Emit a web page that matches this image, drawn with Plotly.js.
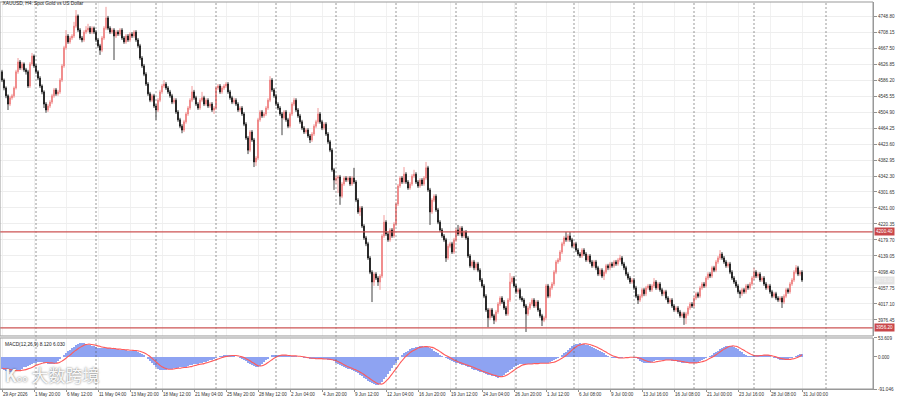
<!DOCTYPE html>
<html>
<head>
<meta charset="utf-8">
<script src="https://cdn.plot.ly/plotly-3.0.1.min.js"></script>
<style>html,body{margin:0;padding:0;background:#fff}#chart{width:900px;height:400px}</style>
</head>
<body>
<div id="chart"></div>
<script>
const chartTitle = "XAUUSD, H4: Spot Gold vs US Dollar";
const macdTitle = "MACD(12,26,9) 8.120 6.030";

const open = [
4607,4586,4566,4546,4525,4541,4546,4566,4607,4632,
4617,4627,4612,4607,4571,4627,4647,4622,4607,4591,
4571,4556,4525,4510,4520,4530,4546,4561,4551,4556,
4586,4622,4668,4698,4683,4693,4698,4723,4749,4713,
4693,4688,4708,4713,4718,4708,4718,4708,4688,4673,
4662,4693,4718,4744,4718,4708,4713,4698,4708,4703,
4713,4693,4683,4698,4688,4703,4698,4708,4688,4673,
4642,4622,4601,4576,4551,4535,4546,4520,4510,4535,
4556,4571,4576,4566,4556,4546,4530,4535,4505,4485,
4469,4459,4480,4500,4515,4535,4556,4541,4525,4515,
4535,4541,4525,4535,4520,4525,4510,4515,4566,4571,
4556,4566,4571,4576,4556,4541,4530,4535,4525,4510,
4515,4500,4474,4439,4408,4454,4434,4378,4388,4485,
4505,4495,4500,4515,4535,4586,4561,4546,4525,4515,
4500,4490,4505,4485,4469,4500,4525,4535,4510,4495,
4480,4464,4454,4459,4444,4434,4449,4469,4480,4500,
4480,4464,4474,4449,4429,4408,4358,4332,4337,4340,
4291,4322,4337,4332,4337,4322,4337,4327,4281,4251,
4261,4215,4185,4170,4134,4098,4073,4093,4083,4073,
4088,4190,4225,4195,4180,4205,4190,4220,4271,4317,
4337,4327,4347,4327,4312,4322,4342,4347,4327,4317,
4332,4322,4337,4363,4307,4251,4281,4291,4256,4225,
4205,4190,4180,4134,4164,4170,4149,4180,4205,4195,
4210,4190,4200,4185,4139,4114,4124,4109,4119,4103,
4078,4063,4037,4002,3982,4002,3987,3976,3997,4017,
4032,4022,4007,3992,4027,4073,4083,4063,4048,4053,
4032,4027,4012,3992,4007,4017,4027,4012,4022,4002,
3987,3976,3982,4063,4037,4058,4068,4098,4124,4129,
4149,4170,4185,4180,4190,4180,4164,4170,4154,4144,
4139,4154,4144,4129,4139,4124,4114,4124,4109,4093,
4103,4088,4098,4114,4109,4119,4114,4124,4119,4129,
4134,4119,4109,4093,4083,4073,4078,4058,4037,4027,
4037,4053,4043,4058,4063,4053,4063,4073,4058,4068,
4053,4043,4048,4032,4022,4027,4012,4002,4007,3997,
3987,3992,3982,3992,4007,4017,4012,4032,4043,4037,
4058,4068,4063,4083,4093,4088,4109,4103,4124,4134,
4144,4134,4124,4114,4119,4098,4083,4073,4063,4048,
4043,4053,4048,4063,4058,4068,4083,4098,4088,4093,
4078,4083,4068,4058,4063,4048,4037,4043,4032,4027,
4032,4022,4037,4053,4048,4068,4078,4098,4109,4093,
4098];

const close = [
4586,4566,4546,4525,4541,4546,4566,4607,4632,4617,
4627,4612,4607,4571,4627,4647,4622,4607,4591,4571,
4556,4525,4510,4520,4530,4546,4561,4551,4556,4586,
4622,4668,4698,4683,4693,4698,4723,4749,4713,4693,
4688,4708,4713,4718,4708,4718,4708,4688,4673,4662,
4693,4718,4744,4718,4708,4713,4698,4708,4703,4713,
4693,4683,4698,4688,4703,4698,4708,4688,4673,4642,
4622,4601,4576,4551,4535,4546,4520,4510,4535,4556,
4571,4576,4566,4556,4546,4530,4535,4505,4485,4469,
4459,4480,4500,4515,4535,4556,4541,4525,4515,4535,
4541,4525,4535,4520,4525,4510,4515,4566,4571,4556,
4566,4571,4576,4556,4541,4530,4535,4525,4510,4515,
4500,4474,4439,4408,4454,4434,4378,4388,4485,4505,
4495,4500,4515,4535,4586,4561,4546,4525,4515,4500,
4490,4505,4485,4469,4500,4525,4535,4510,4495,4480,
4464,4454,4459,4444,4434,4449,4469,4480,4500,4480,
4464,4474,4449,4429,4408,4358,4332,4337,4340,4291,
4322,4337,4332,4337,4322,4337,4327,4281,4251,4261,
4215,4185,4170,4134,4098,4073,4093,4083,4073,4088,
4190,4225,4195,4180,4205,4190,4220,4271,4317,4337,
4327,4347,4327,4312,4322,4342,4347,4327,4317,4332,
4322,4337,4363,4307,4251,4281,4291,4256,4225,4205,
4190,4180,4134,4164,4170,4149,4180,4205,4195,4210,
4190,4200,4185,4139,4114,4124,4109,4119,4103,4078,
4063,4037,4002,3982,4002,3987,3976,3997,4017,4032,
4022,4007,3992,4027,4073,4083,4063,4048,4053,4032,
4027,4012,3992,4007,4017,4027,4012,4022,4002,3987,
3976,3982,4063,4037,4058,4068,4098,4124,4129,4149,
4170,4185,4180,4190,4180,4164,4170,4154,4144,4139,
4154,4144,4129,4139,4124,4114,4124,4109,4093,4103,
4088,4098,4114,4109,4119,4114,4124,4119,4129,4134,
4119,4109,4093,4083,4073,4078,4058,4037,4027,4037,
4053,4043,4058,4063,4053,4063,4073,4058,4068,4053,
4043,4048,4032,4022,4027,4012,4002,4007,3997,3987,
3992,3982,3992,4007,4017,4012,4032,4043,4037,4058,
4068,4063,4083,4093,4088,4109,4103,4124,4134,4144,
4134,4124,4114,4119,4098,4083,4073,4063,4048,4043,
4053,4048,4063,4058,4068,4083,4098,4088,4093,4078,
4083,4068,4058,4063,4048,4037,4043,4032,4027,4032,
4022,4037,4053,4048,4068,4078,4098,4109,4093,4098,
4078];

const high = [
4612,4590,4570,4550,4546,4551,4570,4612,4642,4637,
4632,4631,4617,4612,4632,4655,4651,4627,4611,4596,
4575,4560,4530,4525,4535,4551,4566,4566,4561,4591,
4627,4673,4713,4703,4698,4703,4734,4764,4753,4718,
4698,4713,4723,4729,4723,4723,4722,4713,4693,4678,
4698,4723,4772,4749,4723,4718,4718,4713,4713,4718,
4718,4698,4703,4703,4708,4708,4713,4713,4693,4678,
4647,4627,4606,4581,4556,4551,4551,4525,4540,4561,
4576,4586,4581,4571,4561,4551,4541,4540,4510,4490,
4474,4485,4505,4520,4540,4571,4561,4546,4530,4540,
4556,4546,4540,4540,4530,4530,4520,4571,4576,4576,
4571,4576,4581,4581,4561,4546,4541,4540,4530,4520,
4520,4505,4479,4444,4459,4459,4439,4393,4490,4510,
4510,4505,4520,4540,4596,4591,4566,4551,4530,4520,
4505,4510,4510,4490,4505,4530,4541,4540,4515,4500,
4485,4469,4464,4464,4449,4454,4474,4485,4515,4505,
4485,4479,4479,4454,4434,4413,4363,4342,4345,4345,
4327,4342,4342,4342,4342,4342,4363,4332,4286,4266,
4266,4220,4190,4175,4139,4103,4098,4098,4088,4093,
4195,4243,4230,4200,4210,4210,4225,4276,4322,4342,
4342,4365,4352,4332,4327,4347,4358,4352,4332,4337,
4337,4342,4378,4368,4312,4286,4296,4296,4261,4230,
4210,4195,4185,4170,4175,4175,4185,4210,4218,4215,
4215,4205,4205,4190,4144,4129,4129,4124,4124,4108,
4083,4068,4042,4007,4007,4007,3992,4002,4022,4037,
4037,4027,4012,4032,4096,4088,4088,4068,4058,4058,
4037,4032,4017,4012,4022,4032,4032,4027,4027,4007,
3992,3987,4068,4068,4063,4073,4103,4129,4134,4154,
4175,4190,4200,4195,4200,4185,4175,4175,4159,4149,
4159,4159,4149,4144,4144,4129,4129,4129,4114,4108,
4108,4103,4119,4119,4124,4124,4129,4129,4134,4142,
4139,4124,4114,4098,4088,4083,4083,4063,4042,4042,
4058,4058,4063,4068,4068,4068,4083,4078,4073,4073,
4058,4053,4053,4037,4032,4032,4017,4012,4012,4002,
3997,3997,3997,4012,4022,4022,4037,4048,4048,4063,
4073,4073,4088,4098,4098,4114,4114,4129,4139,4154,
4149,4139,4129,4124,4124,4103,4088,4078,4068,4053,
4058,4058,4068,4068,4073,4088,4109,4103,4098,4098,
4088,4088,4073,4068,4068,4053,4048,4048,4037,4037,
4037,4042,4058,4058,4073,4083,4103,4116,4114,4103,
4103];

const low = [
4581,4560,4540,4510,4520,4536,4541,4562,4602,4612,
4611,4607,4600,4566,4566,4622,4617,4602,4586,4566,
4550,4515,4503,4505,4515,4525,4541,4546,4546,4551,
4581,4617,4663,4678,4678,4688,4693,4718,4708,4688,
4682,4683,4703,4708,4703,4703,4703,4683,4668,4650,
4657,4688,4713,4713,4703,4703,4637,4693,4698,4698,
4688,4678,4678,4683,4683,4693,4693,4683,4668,4637,
4617,4596,4571,4546,4530,4530,4515,4485,4505,4530,
4551,4566,4561,4551,4541,4525,4525,4500,4480,4464,
4451,4454,4475,4495,4510,4530,4536,4520,4510,4510,
4530,4520,4520,4515,4515,4505,4500,4510,4561,4551,
4551,4561,4566,4551,4536,4525,4525,4520,4505,4505,
4495,4469,4434,4398,4403,4429,4365,4368,4383,4480,
4490,4490,4495,4510,4530,4556,4541,4520,4510,4495,
4446,4485,4480,4464,4464,4495,4520,4505,4490,4475,
4459,4449,4449,4439,4426,4429,4444,4464,4475,4475,
4459,4459,4444,4424,4403,4353,4307,4322,4299,4269,
4286,4317,4327,4327,4317,4317,4322,4276,4246,4241,
4210,4180,4164,4129,4093,4022,4063,4078,4063,4053,
4083,4185,4190,4175,4175,4185,4185,4215,4266,4312,
4322,4322,4322,4307,4307,4317,4337,4322,4312,4312,
4317,4317,4332,4302,4218,4246,4276,4251,4220,4200,
4185,4175,4124,4129,4159,4144,4144,4175,4190,4190,
4185,4185,4180,4134,4109,4109,4103,4103,4098,4073,
4058,4032,3997,3958,3976,3982,3966,3971,3992,4012,
4017,4002,3987,3987,4022,4068,4058,4043,4043,4027,
4022,4007,3946,3987,4002,4012,4007,4007,3997,3982,
3961,3971,3976,4032,4032,4053,4063,4093,4119,4124,
4144,4164,4175,4175,4175,4159,4159,4149,4139,4134,
4134,4139,4124,4124,4119,4109,4109,4103,4088,4088,
4083,4078,4093,4103,4103,4109,4109,4114,4114,4124,
4114,4103,4088,4078,4068,4068,4053,4032,4017,4022,
4032,4037,4037,4053,4048,4048,4058,4053,4053,4048,
4037,4037,4027,4017,4017,4007,3997,3997,3992,3982,
3982,3964,3966,3987,4002,4007,4007,4027,4032,4032,
4053,4058,4058,4078,4083,4083,4098,4098,4119,4129,
4129,4119,4109,4109,4093,4078,4068,4058,4043,4032,
4037,4043,4043,4053,4053,4063,4078,4083,4083,4073,
4073,4063,4053,4053,4043,4032,4032,4027,4022,4022,
4007,4017,4032,4043,4043,4063,4073,4093,4088,4088,
4073];

const macd = [
-35,-37,-39,-41,-42,-42,-41,-40,-38,-36,
-33,-30,-28,-25,-22,-19,-17,-16,-15,-15,
-15,-16,-18,-19,-20,-20,-19,-17,-12,-6,
0,5,11,16,20,25,29,33,36,39,
39,38,37,35,33,31,30,28,26,25,
24,24,25,25,24,23,22,21,21,20,
20,19,19,18,18,17,17,16,14,12,
8,4,0,-5,-11,-17,-23,-29,-34,-38,
-38,-37,-36,-35,-34,-33,-32,-31,-31,-30,
-30,-29,-28,-26,-24,-22,-21,-20,-19,-18,
-17,-15,-14,-12,-10,-8,-6,-3,0,2,
3,4,5,5,5,4,3,1,-1,-3,
-6,-9,-13,-17,-20,-23,-27,-30,-29,-25,
-20,-15,-10,-5,0,4,6,6,6,5,
5,4,4,3,3,3,2,2,1,0,
-1,-2,-3,-4,-5,-6,-6,-6,-5,-5,
-6,-6,-7,-8,-9,-10,-13,-16,-19,-23,
-26,-29,-31,-33,-35,-38,-40,-43,-47,-51,
-55,-60,-64,-68,-72,-75,-78,-80,-80,-78,
-72,-64,-56,-48,-40,-32,-24,-16,-8,0,
5,10,14,18,21,24,26,28,29,30,
30,29,28,27,25,22,18,14,10,6,
3,0,-3,-6,-10,-13,-15,-17,-18,-20,
-22,-24,-26,-28,-30,-33,-36,-38,-40,-42,
-44,-46,-48,-50,-52,-54,-55,-57,-59,-58,
-55,-50,-46,-42,-38,-33,-29,-25,-22,-20,
-20,-20,-20,-19,-19,-19,-18,-18,-18,-18,
-18,-18,-18,-16,-14,-12,-9,-6,-3,0,
5,10,15,20,25,30,34,36,37,38,
37,36,35,33,31,29,26,23,20,17,
14,10,6,3,0,-2,-3,-4,-4,-3,
-2,-1,0,0,0,-1,-2,-4,-7,-11,
-14,-16,-17,-17,-16,-14,-12,-10,-9,-8,
-8,-9,-9,-10,-10,-11,-12,-13,-14,-15,
-16,-17,-18,-18,-18,-18,-17,-16,-14,-12,
-10,-7,-4,-1,2,6,10,14,18,22,
26,29,31,32,32,30,28,25,21,17,
13,9,6,3,2,2,3,4,5,6,
6,6,5,4,2,0,-2,-4,-6,-8,
-8,-8,-7,-6,-4,-2,0,2,5,7,
8.12];

const signal = [
-32,-33,-34,-35,-36,-37,-38,-39,-39,-39,
-38,-37,-36,-34,-32,-30,-27,-24,-22,-20,
-18,-17,-16,-16,-17,-17,-18,-18,-17,-15,
-12,-8,-4,1,5,10,15,19,23,27,
30,33,35,36,36,35,34,33,31,30,
28,27,26,25,25,24,24,23,22,22,
21,21,20,20,19,19,18,18,17,16,
14,12,9,5,1,-4,-9,-14,-19,-24,
-28,-31,-33,-35,-35,-35,-34,-33,-32,-32,
-31,-30,-30,-29,-28,-27,-25,-24,-22,-21,
-20,-19,-17,-16,-14,-12,-10,-8,-6,-4,
-2,0,1,2,3,4,4,4,3,2,
0,-2,-5,-8,-11,-15,-18,-22,-25,-26,
-25,-23,-20,-16,-12,-8,-4,-1,2,4,
5,5,5,4,4,3,3,3,2,2,
1,0,-1,-2,-3,-4,-4,-5,-5,-5,
-5,-6,-6,-6,-7,-8,-9,-11,-13,-16,
-19,-22,-25,-28,-30,-32,-35,-37,-40,-43,
-46,-50,-54,-58,-62,-66,-70,-73,-76,-77,
-77,-74,-69,-63,-56,-49,-41,-34,-26,-18,
-11,-4,2,7,12,16,19,22,25,27,
28,29,29,29,28,27,25,22,19,15,
11,7,4,1,-2,-5,-9,-11,-14,-16,
-18,-20,-22,-24,-26,-28,-30,-33,-35,-37,
-40,-42,-44,-46,-48,-50,-52,-53,-55,-56,
-56,-55,-53,-50,-46,-42,-38,-34,-30,-27,
-24,-22,-21,-20,-20,-20,-19,-19,-19,-18,
-18,-18,-18,-18,-17,-16,-15,-13,-10,-7,
-4,0,4,9,14,19,24,28,32,34,
36,37,37,36,35,33,31,29,26,23,
20,17,14,10,7,4,2,0,-2,-3,
-3,-3,-2,-2,-1,-1,-1,-1,-2,-4,
-6,-9,-11,-13,-14,-15,-15,-14,-13,-12,
-11,-10,-9,-9,-9,-9,-10,-10,-11,-12,
-13,-14,-15,-16,-17,-17,-17,-17,-16,-15,
-14,-12,-10,-7,-4,-1,2,6,10,14,
18,22,25,28,30,31,31,30,28,25,
22,19,15,12,9,6,4,3,3,4,
4,5,5,5,4,3,2,0,-2,-4,
-5,-6,-7,-7,-7,-6,-5,-3,-1,2,
6.03];

// x-axis label bars (every 16 H4 bars) and their texts
const labelBars = [0,16,32,48,64,80,96,112,128,144,160,176,192,208,224,240,256,272,288,304,320,336,352,368,384,400];
const labelTexts = ["29 Apr 2026","1 May 20:00","6 May 12:00","11 May 04:00","13 May 20:00","18 May 12:00","21 May 04:00","25 May 20:00","28 May 12:00","2 Jun 04:00","4 Jun 20:00","9 Jun 12:00","12 Jun 04:00","16 Jun 20:00","19 Jun 12:00","24 Jun 04:00","26 Jun 20:00","1 Jul 12:00","6 Jul 08:00","9 Jul 00:00","13 Jul 16:00","16 Jul 08:00","21 Jul 00:00","23 Jul 16:00","28 Jul 08:00","31 Jul 00:00"];
// week separators (bar index of Monday 00:00)
const weekStarts = [17,47,77,107,137,167,197,227,257,286,316,346,376,412];
// price axis ticks
const priceTicks = [3976.45,4017.10,4057.75,4098.40,4139.05,4179.70,4220.35,4261.00,4301.65,4342.30,4382.95,4423.60,4464.25,4504.90,4545.55,4586.20,4626.85,4667.50,4708.15,4748.80];
const levelLines = [4200.40, 3956.20];
const macdTicks = [53.609, 0, -91.046];
const macdTickText = ["53.609", "0.000", "-91.046"];

const idx = close.map((_, i) => i);
const FONT = "Liberation Sans, Arial, sans-serif";
const mainBottom = 0.137, macdTop = 0.1318;

const traces = [
  {
    type: "candlestick", x: idx, open: open, high: high, low: low, close: close,
    xaxis: "x", yaxis: "y", whiskerwidth: 0,
    increasing: {line: {color: "#ef8080", width: 0.8}, fillcolor: "#ef8080"},
    decreasing: {line: {color: "#111111", width: 0.8}, fillcolor: "#111111"},
    hoverinfo: "skip", showlegend: false
  },
  {
    type: "bar", x: idx, y: macd, xaxis: "x2", yaxis: "y2", width: 0.6,
    marker: {color: "#8ea3f2", line: {width: 0}}, hoverinfo: "skip", showlegend: false
  },
  {
    type: "scatter", mode: "lines", x: idx, y: signal, xaxis: "x2", yaxis: "y2",
    line: {color: "#ff5a5a", width: 1.1, shape: "spline"}, hoverinfo: "skip", showlegend: false
  }
];

const shapes = [];
weekStarts.forEach(w => shapes.push({
  type: "line", xref: "x", yref: "paper", x0: w, x1: w, y0: 0, y1: 1,
  line: {color: "#555", width: 0.6, dash: "2px,2px"}, layer: "above"
}));
levelLines.forEach(v => shapes.push({
  type: "line", xref: "paper", yref: "y", x0: 0, x1: 1, y0: v, y1: v,
  line: {color: "#cc5555", width: 1.2}
}));
shapes.push({type: "rect", xref: "paper", yref: "paper", x0: 0, x1: 1, y0: mainBottom, y1: 1, line: {color: "#999", width: 1}});
shapes.push({type: "rect", xref: "paper", yref: "paper", x0: 0, x1: 1, y0: 0, y1: macdTop, line: {color: "#999", width: 1}});

const annotations = [];
levelLines.forEach(v => annotations.push({
  xref: "paper", yref: "y", x: 1, y: v, xanchor: "left", yanchor: "middle", xshift: 1,
  text: v.toFixed(2), showarrow: false, bgcolor: "#c9474a", borderpad: 1,
  font: {family: FONT, size: 4.6, color: "#ffffff"}
}));
annotations.push({
  xref: "paper", yref: "y", x: 1, y: close[close.length - 1], xanchor: "left", yanchor: "middle", xshift: 1,
  text: close[close.length - 1].toFixed(2), showarrow: false, bgcolor: "#e3e3e3", borderpad: 1,
  font: {family: FONT, size: 4.6, color: "#f4f4f4"}
});
annotations.push({
  xref: "paper", yref: "paper", x: 0.003, y: macdTop, xanchor: "left", yanchor: "top", yshift: -2,
  text: macdTitle, showarrow: false, font: {family: FONT, size: 4.8, color: "#222"}
});
annotations.push({
  xref: "paper", yref: "paper", x: 0.004, y: 0, xanchor: "left", yanchor: "bottom", yshift: 0,
  text: "<b>K</b><span style=\"font-size:9px\">oo</span> 大数跨境", showarrow: false,
  font: {family: "Noto Sans CJK SC, sans-serif", size: 17, color: "rgba(255,255,255,0.95)", shadow: "0px 0px 2px rgba(70,70,70,0.9)"}
});

const layout = {
  width: 900, height: 400,
  margin: {l: 0, r: 27, t: 2, b: 11},
  paper_bgcolor: "#ffffff", plot_bgcolor: "#ffffff",
  title: {text: chartTitle, x: 0.003, xanchor: "left", xref: "paper", y: 0.997, yanchor: "top",
          font: {family: FONT, size: 4.8, color: "#222"}},
  showlegend: false, bargap: 0,
  xaxis: {
    domain: [0, 1], range: [-1, 435.5], anchor: "y", rangeslider: {visible: false},
    tickmode: "array", tickvals: labelBars, showticklabels: false, ticks: "",
    showgrid: true, gridcolor: "#f1f1f1", gridwidth: 1, zeroline: false, showline: false, fixedrange: true
  },
  yaxis: {
    domain: [mainBottom, 1], range: [3935.8, 4784.4], side: "right", anchor: "x",
    tickmode: "array", tickvals: priceTicks, ticktext: priceTicks.map(v => v.toFixed(2)),
    ticks: "outside", ticklen: 3, tickcolor: "#777", tickwidth: 0.8,
    tickfont: {family: FONT, size: 4.6, color: "#333"},
    showgrid: true, gridcolor: "#eeeeee", zeroline: false, showline: true, linecolor: "#999", fixedrange: true
  },
  xaxis2: {
    domain: [0, 1], matches: "x", anchor: "y2",
    tickmode: "array", tickvals: labelBars, ticktext: labelTexts, tickangle: 0, automargin: false,
    ticklabelposition: "outside right", ticks: "outside", ticklen: 2, tickcolor: "#777", tickwidth: 0.8,
    tickfont: {family: FONT, size: 4.6, color: "#333"},
    showgrid: true, gridcolor: "#f1f1f1", zeroline: false, showline: true, linecolor: "#999", fixedrange: true
  },
  yaxis2: {
    domain: [0, macdTop], range: [-91.046, 53.609], side: "right", anchor: "x2",
    tickmode: "array", tickvals: macdTicks, ticktext: macdTickText,
    ticks: "outside", ticklen: 3, tickcolor: "#777", tickwidth: 0.8,
    tickfont: {family: FONT, size: 4.6, color: "#333"},
    showgrid: false, zeroline: false, showline: true, linecolor: "#999", fixedrange: true
  },
  shapes: shapes,
  annotations: annotations
};

Plotly.newPlot("chart", traces, layout, {displayModeBar: false, staticPlot: true});
</script>
</body>
</html>
